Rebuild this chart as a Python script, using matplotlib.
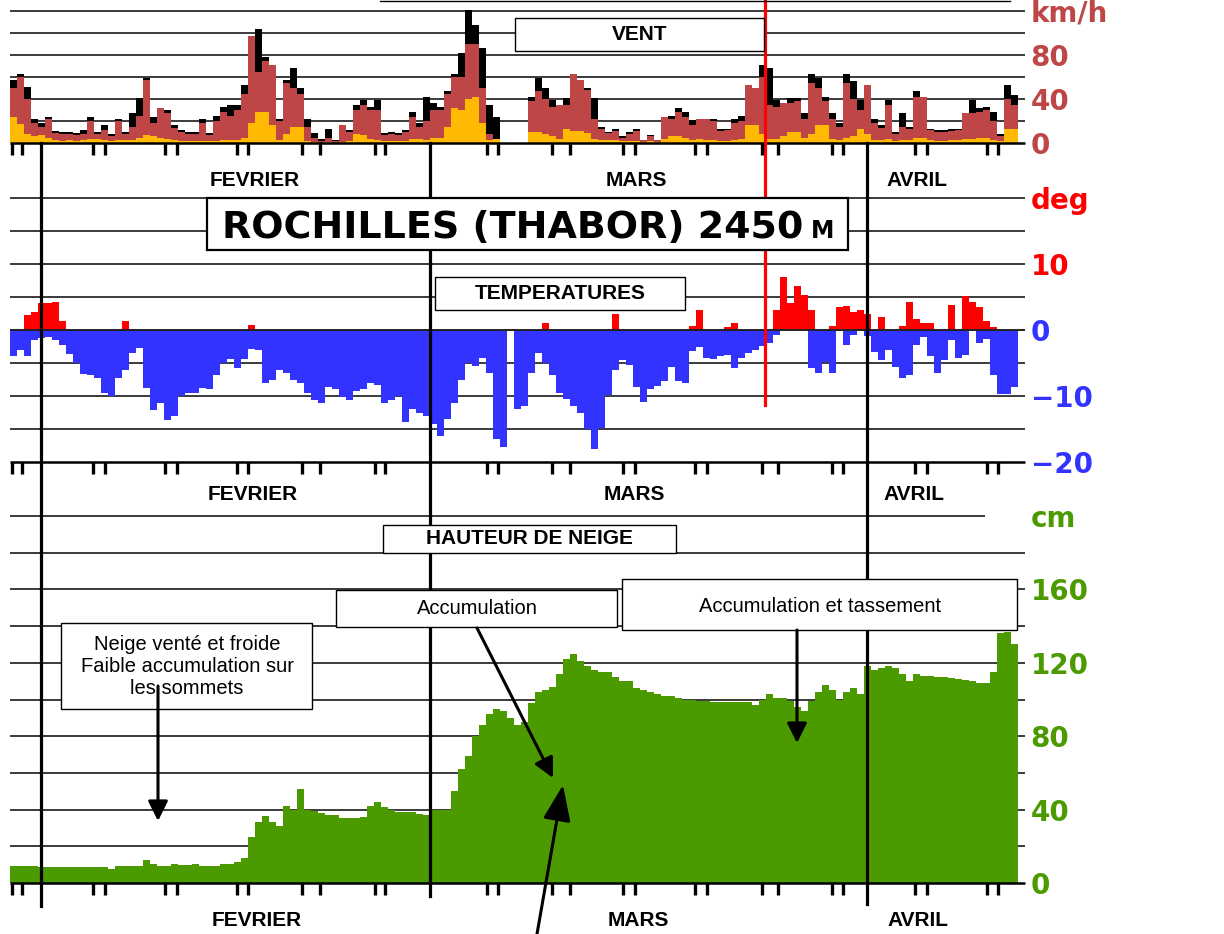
import numpy as np
import matplotlib
matplotlib.use('Agg')
import matplotlib.pyplot as plt
from matplotlib.patches import Rectangle, FancyArrowPatch
from matplotlib.lines import Line2D
from matplotlib.transforms import blended_transform_factory

# ---------------- data (half-day steps, starting 30 January) ----------------
wind_max = [57, 63, 51, 22, 18, 24, 11, 10, 10, 9,
            12, 24, 10, 16, 8, 22, 10, 27, 41, 59,
            24, 32, 30, 16, 12, 10, 10, 22, 9, 25,
            33, 35, 35, 53, 97, 104, 78, 71, 22, 57,
            68, 50, 22, 9, 4, 13, 3, 16, 12, 35,
            39, 33, 39, 9, 10, 9, 12, 28, 18, 42,
            36, 33, 47, 63, 82, 121, 107, 86, 35, 24,
            0, 0, 0, 0, 42, 59, 50, 39, 35, 41,
            63, 57, 50, 41, 15, 10, 13, 6, 10, 13,
            3, 7, 3, 24, 25, 32, 28, 21, 22, 22,
            22, 13, 13, 22, 25, 53, 50, 71, 68, 39,
            36, 41, 41, 27, 63, 59, 42, 27, 18, 63,
            56, 39, 53, 22, 16, 39, 10, 27, 15, 47,
            42, 13, 12, 12, 13, 13, 27, 39, 32, 33,
            28, 8, 53, 44]
wind_mid = [50, 60, 40, 18, 15, 22, 9, 8, 8, 7,
            8, 20, 8, 12, 6, 20, 8, 15, 25, 57,
            18, 32, 27, 14, 10, 8, 8, 18, 7, 20,
            28, 25, 30, 45, 97, 65, 75, 71, 20, 55,
            50, 45, 15, 5, 2, 5, 2, 16, 10, 30,
            35, 30, 30, 7, 8, 7, 10, 24, 15, 20,
            30, 30, 45, 60, 60, 90, 90, 50, 8, 4,
            0, 0, 0, 0, 38, 47, 40, 33, 35, 35,
            63, 57, 48, 22, 13, 9, 11, 5, 8, 11,
            3, 6, 3, 24, 22, 28, 24, 16, 22, 22,
            20, 11, 12, 18, 20, 53, 50, 60, 35, 33,
            36, 36, 38, 22, 55, 50, 38, 22, 15, 55,
            40, 30, 53, 18, 14, 35, 8, 15, 13, 42,
            42, 12, 10, 10, 11, 12, 27, 27, 28, 30,
            20, 6, 40, 35]
wind_min = [24, 17, 8, 6, 7, 5, 3, 2, 3, 2,
            3, 4, 4, 3, 2, 3, 3, 3, 5, 7,
            6, 5, 4, 3, 2, 2, 2, 2, 2, 2,
            3, 3, 3, 5, 18, 28, 28, 16, 3, 8,
            15, 15, 2, 1, 0, 1, 0, 1, 2, 8,
            7, 4, 3, 2, 2, 2, 2, 4, 4, 3,
            5, 5, 15, 32, 30, 40, 42, 18, 3, 4,
            0, 0, 0, 0, 10, 10, 8, 6, 4, 13,
            11, 11, 9, 4, 3, 3, 3, 2, 2, 2,
            1, 2, 1, 4, 6, 6, 5, 3, 4, 3,
            3, 2, 2, 3, 4, 16, 16, 8, 4, 4,
            6, 10, 10, 5, 8, 16, 16, 4, 3, 5,
            6, 13, 8, 3, 3, 4, 2, 3, 3, 5,
            5, 3, 2, 2, 3, 3, 4, 4, 5, 5,
            3, 2, 13, 13]
temp_hi = [0, 0, 2.3, 2.8, 4.1, 4.1, 4.3, 1.3, 0, 0,
           0, 0, 0, 0, 0, 0, 1.3, 0, 0, 0,
           0, 0, 0, 0, 0, 0, 0, 0, 0, 0,
           0, 0, 0, 0, 0.7, 0, 0, 0, 0, 0,
           0, 0, 0, 0, 0, 0, 0, 0, 0, 0,
           0, 0, 0, 0, 0, 0, 0, 0, 0, 0,
           0, 0, 0, 0, 0, 0, 0, 0, 0, 0,
           0, 0, 0, 0, 0, 0, 1.0, 0, 0, 0,
           0, 0, 0, 0, 0, 0, 2.5, 0, 0, 0,
           0, 0, 0, 0, 0, 0, 0, 0.6, 3.1, 0,
           0, 0, 0.5, 1.0, 0, 0, 0, 0, 0, 3.1,
           8.0, 4.1, 6.6, 5.3, 3.1, 0, 0, 0.6, 3.5, 3.6,
           2.8, 3.1, 2.5, 0, 2.0, 0, 0, 0.6, 4.3, 1.6,
           1.1, 1.1, 0, 0, 3.8, 0, 5.2, 4.3, 3.5, 1.3,
           0.5, 0, 0, 0]
temp_lo = [-4.0, -3.0, -3.9, -1.5, -1.2, -1.0, -1.5, -2.2, -3.7, -5.0,
           -6.7, -6.8, -7.2, -9.5, -10.0, -7.3, -6.0, -3.5, -2.7, -8.8,
           -12.1, -11.0, -13.6, -13.0, -10.0, -9.6, -9.5, -8.8, -9.0, -6.8,
           -5.0, -4.4, -5.8, -4.4, -2.9, -3.1, -8.0, -7.6, -6.0, -6.5,
           -7.5, -8.0, -9.6, -10.6, -11.0, -8.7, -9.0, -10.2, -10.6, -9.3,
           -9.0, -8.1, -8.4, -11.0, -10.6, -10.0, -14.0, -12.0, -12.5, -13.0,
           -14.2, -16.0, -13.5, -11.0, -7.5, -5.0, -5.5, -4.2, -6.5, -16.5,
           -17.7, 0, -12.0, -11.5, -6.5, -3.5, -5.0, -6.8, -9.5, -10.4,
           -11.5, -12.5, -15.0, -18.1, -14.9, -9.8, -6.0, -4.5, -5.3, -8.6,
           -10.9, -9.0, -8.5, -7.8, -5.6, -7.8, -8.0, -3.2, -2.6, -4.3,
           -4.4, -4.0, -3.8, -5.8, -4.3, -3.5, -3.0, -2.4, -2.0, -0.8,
           0, 0, 0, 0, -5.8, -6.5, -4.9, -6.5, 0, -2.3,
           -0.8, 0, -0.9, -3.3, -4.5, -3.0, -5.6, -7.3, -6.8, -2.3,
           -1.0, -4.0, -6.5, -4.6, -1.5, -4.3, -3.8, 0, -1.9, -1.3,
           -6.8, -9.7, -9.7, -8.6]
snow_cm = [9.3, 9.3, 9.3, 9.3, 8.6, 8.6, 8.6, 8.6, 8.6, 8.6,
           8.6, 8.6, 8.6, 8.6, 7.5, 9.0, 9.0, 9.0, 9.0, 12.6,
           10.4, 9.3, 9.3, 10.4, 9.8, 9.8, 10.4, 9.3, 9.3, 9.3,
           10.4, 10.4, 11.7, 13.5, 25, 33, 36.7, 33, 31, 42,
           40, 51, 40, 39, 38, 37, 37, 35.4, 35.4, 35.4,
           36, 42, 44, 41.5, 40, 38.5, 38.5, 38.5, 37.5, 37,
           40, 40, 40, 50, 62, 69, 80, 86, 92, 94.6,
           94, 90, 86, 88, 98, 104, 105, 107, 114, 122,
           125, 121, 118, 116, 115, 115, 112, 110, 110, 106,
           105, 104, 103, 102, 102, 101, 100, 100, 99, 99,
           98.6, 98.6, 98.6, 98.6, 98.6, 98.6, 97, 100, 103, 101,
           101, 99, 96, 94, 99, 104, 108, 105, 100, 104,
           106, 103, 118, 116, 117, 118, 117, 114, 110, 114,
           113, 113, 112.5, 112, 111.5, 111, 110.5, 110, 109, 109,
           115, 136, 137, 130]

months = ['FEVRIER', 'MARS', 'AVRIL']
month_start_day = [2.2, 30.0, 61.2]
tick_days = [0.14, 0.86, 5.93, 6.79, 11.07, 11.93, 16.21, 17.0, 20.86, 22.14,
             26.07, 26.79, 34.07, 34.86, 38.71, 40.0, 43.79, 44.64, 48.93, 49.79,
             53.71, 54.86, 58.71, 59.5, 64.64, 65.5, 69.79, 70.57]
red_line_day = 53.9

wind_ticks = [0, 40, 80, 120]
wind_ticklabels = ['0', '40', '80', 'km/h']
temp_ticks = [-20, -10, 0, 10, 20]
temp_ticklabels = ['−20', '−10', '0', '10', 'deg']
snow_ticks = [0, 40, 80, 120, 160, 200]
snow_ticklabels = ['0', '40', '80', '120', '160', 'cm']

# ---------------- colours ----------------
C_WBLACK = '#000000'
C_WRED = '#BE4646'
C_WYEL = '#FFB900'
C_TRED = '#FF0000'
C_TBLUE = '#3333FF'
C_SNOW = '#4A9A00'
C_GRID = '#3a3a3a'

W, H = 1224, 934
fig = plt.figure(figsize=(W / 100, H / 100), dpi=100)


def fx(x):
    return x / W


def fy(y):
    return 1 - y / H


X0, X1 = 10, 1025
PXD = 14.0
XMAX = (X1 - X0) / PXD
edges = np.arange(len(snow_cm) + 1) * 0.5


def make_ax(y_bot, pxu, ylim):
    height = (ylim[1] - ylim[0]) * pxu
    ax = fig.add_axes([fx(X0), fy(y_bot), (X1 - X0) / W, height / H])
    ax.set_xlim(0, XMAX)
    ax.set_ylim(*ylim)
    for s in ax.spines.values():
        s.set_visible(False)
    ax.set_xticks([])
    ax.yaxis.tick_right()
    ax.tick_params(axis='y', length=0, pad=4)
    ax.patch.set_alpha(0)
    return ax


lab_font = dict(family='DejaVu Sans', fontweight='bold', fontsize=20)

# ---------------- wind ----------------
axw = make_ax(143, 1.1, (0, 130))
axw.hlines([20, 40, 60, 80, 100, 120], 0, XMAX, color=C_GRID, lw=1.4, zorder=1)
axw.stairs(wind_max, edges, baseline=0, fill=True, color=C_WBLACK, lw=0, zorder=2)
axw.stairs(wind_mid, edges, baseline=0, fill=True, color=C_WRED, lw=0, zorder=2.1)
axw.stairs(wind_min, edges, baseline=0, fill=True, color=C_WYEL, lw=0, zorder=2.2)
axw.hlines([0], 0, XMAX, color='black', lw=1.8, zorder=3, clip_on=False)
axw.set_yticks(wind_ticks)
axw.set_yticklabels(wind_ticklabels, color=C_WRED, **lab_font)

# ---------------- temperature ----------------
axt = make_ax(462, 6.6, (-20, 25))
axt.hlines([-15, -10, -5, 5, 10, 15, 20], 0, XMAX, color=C_GRID, lw=1.4, zorder=1)
axt.stairs(np.minimum(temp_lo, 0), edges, baseline=0, fill=True, color=C_TBLUE, lw=0, zorder=2)
axt.stairs(np.maximum(temp_hi, 0), edges, baseline=0, fill=True, color=C_TRED, lw=0, zorder=2)
axt.hlines([0], 0, XMAX, color='#222222', lw=1.4, zorder=3)
axt.hlines([-20], 0, XMAX, color='black', lw=1.8, zorder=3, clip_on=False)
axt.set_yticks(temp_ticks)
axt.set_yticklabels(temp_ticklabels, **lab_font)
for lbl, v in zip(axt.get_yticklabels(), temp_ticks):
    lbl.set_color(C_TRED if v > 0 else C_TBLUE)

# ---------------- snow ----------------
axs = make_ax(883, 1.835, (0, 205))
axs.hlines([20, 40, 60, 80, 100, 120, 140, 160, 180], 0, XMAX, color=C_GRID, lw=1.4, zorder=1)
axs.hlines([200], 0, (985 - X0) / PXD, color=C_GRID, lw=1.4, zorder=1)
axs.stairs(snow_cm, edges, baseline=0, fill=True, color=C_SNOW, lw=0, zorder=2)
axs.hlines([0], 0, XMAX, color='black', lw=1.8, zorder=3, clip_on=False)
axs.set_yticks(snow_ticks)
axs.set_yticklabels(snow_ticklabels, color=C_SNOW, **lab_font)

# ---------------- vertical month lines / ticks ----------------
tr = blended_transform_factory(axw.transData, fig.transFigure)
for d, ybot in zip(month_start_day, [906, 896, 904]):
    fig.add_artist(Line2D([d, d], [fy(143), fy(ybot)], transform=tr, color='black',
                          lw=2.3, zorder=1))
fig.add_artist(Line2D([red_line_day, red_line_day], [fy(0), fy(405)], transform=tr,
                      color='#FF0000', lw=2.3, zorder=2))
for yax in (143, 462, 883):
    for d in tick_days:
        fig.add_artist(Line2D([d, d], [fy(yax), fy(yax + 12)], transform=tr, color='black',
                              lw=2.4, solid_capstyle='butt', zorder=2))
# top border fragment
fig.add_artist(Line2D([fx(380), fx(1010)], [fy(1), fy(1)], color='black', lw=1, zorder=2))

# ---------------- month labels ----------------
mfont = dict(family='Liberation Sans', fontweight='bold', fontsize=15, ha='center', va='center')
for ylab, xs in ((180, (255, 636, 917)), (494, (253, 634, 914)), (920, (257, 638, 918))):
    for name, xl in zip(months, xs):
        fig.text(fx(xl), fy(ylab), name, **mfont)


# ---------------- boxes ----------------
def box(x0, y0, x1, y1, lw=1.0):
    fig.add_artist(Rectangle((fx(x0), fy(y1)), (x1 - x0) / W, (y1 - y0) / H,
                             transform=fig.transFigure, facecolor='white',
                             edgecolor='black', lw=lw, zorder=3))


box(515, 18, 764, 51)
fig.text(fx(640), fy(35), 'VENT', **{**mfont, 'zorder': 4})
box(435, 277, 685, 310)
fig.text(fx(560), fy(294), 'TEMPERATURES', **{**mfont, 'zorder': 4})
box(383, 525, 676, 553)
fig.text(fx(529), fy(539), 'HAUTEUR DE NEIGE', **{**mfont, 'zorder': 4})

box(207, 198, 848, 250, lw=1.6)
fig.text(fx(222), fy(238), 'ROCHILLES (THABOR) 2450', family='DejaVu Sans',
         fontweight='bold', fontsize=27.4, ha='left', va='baseline', zorder=4)
fig.text(fx(811), fy(238), 'M', family='DejaVu Sans', fontweight='bold',
         fontsize=17, ha='left', va='baseline', zorder=4)

afont = dict(family='Liberation Sans', fontsize=14.5, ha='center', va='center', zorder=4)
box(336, 590, 617, 627)
fig.text(fx(477), fy(609), 'Accumulation', **afont)
box(622, 579, 1017, 630)
fig.text(fx(820), fy(606), 'Accumulation et tassement', **afont)
box(61, 623, 312, 709)
fig.text(fx(187), fy(666), 'Neige venté et froide\nFaible accumulation sur\nles sommets',
         linespacing=1.2, **afont)


# ---------------- arrows ----------------
def arrow(p0, p1, hl=12, hw=6, lw=2.2):
    fig.add_artist(FancyArrowPatch((fx(p0[0]), fy(p0[1])), (fx(p1[0]), fy(p1[1])),
                                   transform=fig.transFigure,
                                   arrowstyle=f'-|>,head_length={hl},head_width={hw}',
                                   mutation_scale=1, shrinkA=0, shrinkB=0,
                                   color='black', lw=lw, zorder=5))


arrow((158, 686), (158, 821))
arrow((477, 628), (553, 778))
arrow((537, 934), (563, 785), hl=22, hw=8.5)
arrow((797, 630), (797, 743))

fig.savefig('out.png', dpi=100)
